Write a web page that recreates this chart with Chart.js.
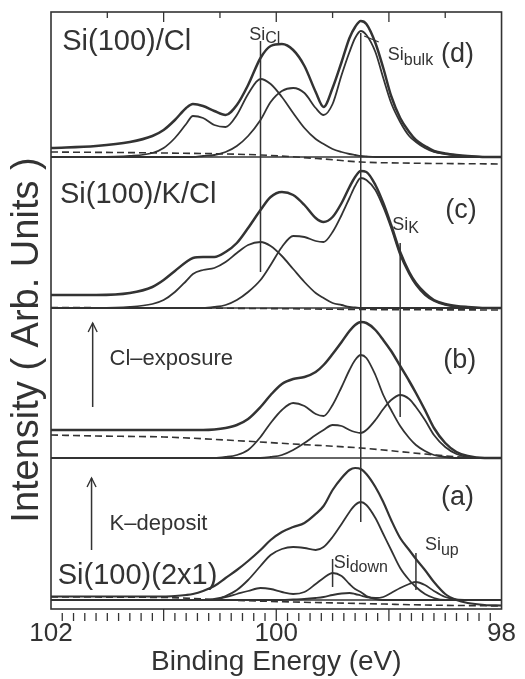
<!DOCTYPE html>
<html><head><meta charset="utf-8">
<script src="https://cdn.jsdelivr.net/npm/chart.js@4"></script>
<style>html,body{margin:0;padding:0;background:#fff}#wrap{width:525px;height:679px;position:relative}</style>
</head><body><div id="wrap"><canvas id="c"></canvas></div>
<script>
// Binding energy grid (eV) shared by all fitted curves
const energies = [102.0, 101.6, 101.3, 101.1, 101.0, 100.9, 100.8, 100.74, 100.65, 100.55, 100.45, 100.35, 100.25, 100.14, 100.05, 99.95, 99.85, 99.75, 99.65, 99.58, 99.5, 99.42, 99.35, 99.3, 99.25, 99.2, 99.12, 99.05, 98.98, 98.9, 98.82, 98.76, 98.68, 98.6, 98.5, 98.4, 98.3, 98.15, 98.0];

// (d) Si(100)/Cl
const dTotal = [9, 11, 15, 21, 27, 37, 49, 53, 51, 46, 42, 52, 72, 99, 111, 113, 107, 91, 65, 50, 69, 95, 119, 130, 136, 133, 114, 89, 61, 39, 25, 17, 11, 6, 3.5, 2, 1, 0, 0];
const dSiCl  = [0, 0, 1, 4, 9, 19, 33, 41, 39, 32, 30, 42, 63, 78, 73, 60, 44, 29, 18, 13, 8, 5, 3, 2, 1, 0.5, 0, 0, 0, 0, 0, 0, 0, 0, 0, 0, 0, 0, 0];
const dBulk  = [0, 0, 0, 0, 0, 0, 0, 0, 1, 2, 5, 11, 21, 37, 55, 66, 69, 64, 49, 42, 53, 82, 105, 119, 126, 122, 105, 79, 54, 35, 21, 15, 9, 5, 3, 1.5, 0.5, 0, 0];
const dBgE = [102.0, 101.0, 100.14, 99.58, 99.25, 98.9, 98.0];
const dBg  = [5, 4, 2, -2, -5, -6, -7];

// (c) Si(100)/K/Cl
const cTotal = [13, 13, 15, 21, 28, 37, 46, 50, 51, 51, 56, 65, 80, 98, 111, 116, 113, 103, 90, 86, 91, 105, 121, 131, 137, 136, 123, 105, 83, 56, 36, 25, 15, 8, 4, 2, 1, 0, 0];
const cSiCl  = [0, 0, 1, 4, 8, 16, 27, 34, 38, 40, 46, 55, 63, 66, 62, 52, 39, 26, 15, 10, 5, 3, 1, 0.5, 0, 0, 0, 0, 0, 0, 0, 0, 0, 0, 0, 0, 0, 0, 0];
const cBulk  = [0, 0, 0, 0, 0, 0, 0, 0, 0, 1, 3, 8, 16, 28, 43, 61, 72, 71, 67, 66, 76, 93, 110, 122, 130, 128, 118, 101, 80, 53, 34, 23, 13, 7, 3, 1, 0, 0, 0];
const cBgE = [102.0, 100.14, 99.25, 98.0];
const cBg  = [0.5, -0.5, -1.5, -2];

// (b) after Cl exposure
const bTotal = [28, 28, 28, 28, 28, 28, 28, 28, 28, 28.5, 30, 33, 39, 51, 63, 74, 79, 81, 86, 93, 104, 116, 127, 133, 136, 135, 128, 118, 107, 92, 77, 65, 48, 30, 15, 6, 2, 0, 0];
const bBulk  = [0, 0, 0, 0, 0, 0, 0, 0, 0, 0, 1, 3, 8, 21, 35, 48, 55, 52, 44, 42, 53, 71, 88, 98, 103, 100, 83, 63, 48, 32, 20, 13, 7, 3, 1, 0, 0, 0, 0];
const bSiK   = [0, 0, 0, 0, 0, 0, 0, 0, 0, 0, 0, 0, 0, 0, 1, 3, 8, 15, 23, 28, 33, 32, 28, 26, 25, 28, 38, 49, 58, 63, 59, 51, 38, 23, 11, 4, 1, 0, 0];
const bBgE = [102.0, 101.6, 101.0, 100.45, 99.85, 99.25, 98.68, 98.3, 98.0];
const bBg  = [23, 22, 21, 18, 14, 10, 4, 0.5, 0];

// (a) Si(100)(2x1) after K deposit
const aTotal = [3.5, 3.5, 3.5, 3.5, 3.5, 4, 5, 6, 9, 14, 22, 30, 39, 50, 60, 68, 73, 77, 86, 94, 110, 122, 130, 132, 131, 126, 113, 98, 80, 62, 50, 41, 30, 18, 6, 0, -3, -5, -5.5];
const aBulk  = [0, 0, 0, 0, 0, 0, 0, 0, 0, 0, 4, 10, 20, 34, 45, 51, 53, 52, 50, 53, 63, 76, 88, 95, 98, 95, 82, 66, 50, 32, 20, 13, 6, 2, 0, 0, 0, 0, 0];
const aSiDown= [0, 0, 0, 0, 0, 0, 0, 0, 0, 1, 3, 6, 9, 12, 11, 8, 6, 8, 16, 22, 27, 24, 16, 11, 8, 4, 1, 0, 0, 0, 0, 0, 0, 0, 0, 0, 0, 0, 0];
const aSiUp  = [0, 0, 0, 0, 0, 0, 0, 0, 0, 0, 0, 0, 0, 0, 0, 0, 0.5, 1, 2, 3, 5, 6.5, 7, 6, 4.5, 3, 2, 3, 7, 12, 16, 18, 15, 9, 3, 0.5, 0, 0, 0];
const aBgE = [102.0, 101.0, 100.45, 99.85, 99.25, 98.68, 98.0];
const aBg  = [3, 2.5, 0, -2, -3.5, -5, -6];

// component energies (eV) marked by vertical lines
const markSiCl = 100.14, markBulk = 99.25, markSiK = 98.90, markSiDown = 99.50, markSiUp = 98.76;

// x tick labels
const xTickValues = [102, 100, 98];

// ---- layout (not data) ----
const off = {d: 452, c: 301, b: 151, a: 9};
const INK = '#333';
const FAM = '"Liberation Sans", Arial, Helvetica, sans-serif';

function series(E, H, o) { return E.map((e, i) => ({x: e, y: o + H[i]})); }
function curve(E, H, o, w, dash) {
  return {data: series(E, H, o), borderColor: INK, borderWidth: w, pointRadius: 0,
    cubicInterpolationMode: 'monotone', fill: false, borderDash: dash || [], borderCapStyle: 'butt'};
}
function seg(x1, y1, x2, y2, w) {
  return {data: [{x: x1, y: y1}, {x: x2, y: y2}], borderColor: INK, borderWidth: w, pointRadius: 0, tension: 0, fill: false};
}
const DASH = [7, 4];
const datasets = [];
for (const k of ['d', 'c', 'b', 'a']) datasets.push(seg(102, off[k], 98, off[k], 1.6));
datasets.push(curve(dBgE, dBg, off.d, 1.6, DASH));
datasets.push(curve(energies, dSiCl, off.d, 1.8));
datasets.push(curve(energies, dBulk, off.d, 1.8));
datasets.push(curve(energies, dTotal, off.d, 2.5));
datasets.push(curve(cBgE, cBg, off.c, 1.6, DASH));
datasets.push(curve(energies, cSiCl, off.c, 1.8));
datasets.push(curve(energies, cBulk, off.c, 1.8));
datasets.push(curve(energies, cTotal, off.c, 2.5));
datasets.push(curve(bBgE, bBg, off.b, 1.6, DASH));
datasets.push(curve(energies, bBulk, off.b, 1.8));
datasets.push(curve(energies, bSiK, off.b, 1.8));
datasets.push(curve(energies, bTotal, off.b, 2.5));
datasets.push(curve(aBgE, aBg, off.a, 1.6, DASH));
datasets.push(curve(energies, aBulk, off.a, 1.8));
datasets.push(curve(energies, aSiDown, off.a, 1.8));
datasets.push(curve(energies, aSiUp, off.a, 1.8));
datasets.push(curve(energies, aTotal, off.a, 2.2));
datasets.push(seg(markSiCl, 568, markSiCl, 337, 1.5));
datasets.push(seg(markBulk, 576, markBulk, 87, 1.5));
datasets.push(seg(markSiK, 366, markSiK, 192, 1.5));
datasets.push(seg(markSiDown, 50, markSiDown, 22, 1.5));
datasets.push(seg(markSiUp, 56, markSiUp, 19, 1.5));
datasets.push(seg(99.22, 573, 99.09, 567, 1.3));
const arrows = [{e: 101.63, y1: 202, y2: 286}, {e: 101.64, y1: 59, y2: 131}];
for (const a of arrows) datasets.push(seg(a.e, a.y1, a.e, a.y2, 1.5));

const notes = [
  {t: 'Si(100)/Cl', e: 101.90, y: 559, size: 29},
  {t: 'Si(100)/K/Cl', e: 101.92, y: 406, size: 29},
  {t: 'Cl\u2013exposure', e: 101.48, y: 244, size: 22},
  {t: 'K\u2013deposit', e: 101.48, y: 79, size: 22},
  {t: 'Si(100)(2x1)', e: 101.94, y: 25, size: 29},
  {t: '(d)', e: 98.39, y: 547, size: 27, align: 'center'},
  {t: '(c)', e: 98.36, y: 391, size: 27, align: 'center'},
  {t: '(b)', e: 98.37, y: 241, size: 27, align: 'center'},
  {t: '(a)', e: 98.39, y: 104, size: 27, align: 'center'},
  {t: 'Si', sub: 'Cl', e: 100.24, y: 569, size: 18, subSize: 16, drop: 3},
  {t: 'Si', sub: 'bulk', e: 99.01, y: 549, size: 18, subSize: 16, drop: 5},
  {t: 'Si', sub: 'K', e: 98.97, y: 379, size: 18, subSize: 16, drop: 3},
  {t: 'Si', sub: 'down', e: 99.49, y: 41, size: 18, subSize: 16, drop: 4},
  {t: 'Si', sub: 'up', e: 98.68, y: 59, size: 18, subSize: 16, drop: 5}
];

const decor = {
  id: 'decor',
  afterDraw(chart) {
    const {ctx, chartArea: ca, scales} = chart;
    const X = scales.x, Y = scales.y;
    ctx.save();
    ctx.strokeStyle = INK; ctx.fillStyle = INK;
    ctx.lineWidth = 1.6;
    ctx.strokeRect(ca.left, ca.top, ca.right - ca.left, ca.bottom - ca.top);
    ctx.lineWidth = 1.3;
    for (let k = 1; k < 8; k++) {
      const v = 102 - k * 0.5, px = X.getPixelForValue(v);
      const L = (k % 2 === 0) ? 10 : 6;
      ctx.beginPath(); ctx.moveTo(px, ca.top); ctx.lineTo(px, ca.top + L); ctx.stroke();
    }
    for (let k = 1; k < 40; k++) {
      const v = 102 - k * 0.1, px = X.getPixelForValue(v);
      const major = k % 10 === 0;
      ctx.beginPath(); ctx.moveTo(px, ca.bottom + (major ? 0 : 4)); ctx.lineTo(px, ca.bottom + 12); ctx.stroke();
    }
    ctx.lineWidth = 1.4;
    for (const a of arrows) {
      const px = X.getPixelForValue(a.e), py = Y.getPixelForValue(a.y2);
      ctx.beginPath(); ctx.moveTo(px - 4.5, py + 9); ctx.lineTo(px, py); ctx.lineTo(px + 4.5, py + 9); ctx.stroke();
    }
    ctx.textBaseline = 'alphabetic';
    for (const n of notes) {
      const px = X.getPixelForValue(n.e), py = Y.getPixelForValue(n.y);
      ctx.font = n.size + 'px ' + FAM;
      ctx.textAlign = n.align || 'left';
      ctx.fillText(n.t, px, py);
      if (n.sub) {
        const w = ctx.measureText(n.t).width;
        ctx.font = n.subSize + 'px ' + FAM;
        ctx.textAlign = 'left';
        ctx.fillText(n.sub, px + w, py + n.drop);
      }
    }
    ctx.translate(38, 340);
    ctx.rotate(-Math.PI / 2);
    ctx.font = '38px ' + FAM;
    ctx.textAlign = 'center';
    ctx.textBaseline = 'alphabetic';
    ctx.fillText('Intensity ( Arb. Units )', 0, 0);
    ctx.restore();
  }
};

new Chart(document.getElementById('c'), {
  type: 'line',
  data: {datasets},
  options: {
    responsive: true, maintainAspectRatio: false, animation: false,
    layout: {padding: {left: 51, right: 17, top: 12, bottom: 0}},
    plugins: {legend: {display: false}, tooltip: {enabled: false}},
    scales: {
      x: {
        type: 'linear', reverse: true, min: 98, max: 102,
        afterBuildTicks: s => { s.ticks = xTickValues.map(v => ({value: v})); },
        afterFit: s => { s.height = 70; },
        grid: {display: false, drawTicks: false},
        border: {display: false},
        ticks: {padding: 9, autoSkip: false, maxRotation: 0, color: INK, font: {size: 26, family: FAM},
          callback: v => String(v)},
        title: {display: true, text: 'Binding Energy (eV)', color: INK, font: {size: 28, family: FAM}, padding: {top: 0, bottom: 0}}
      },
      y: {type: 'linear', min: 0, max: 597, display: false}
    }
  },
  plugins: [decor]
});
</script></body></html>
